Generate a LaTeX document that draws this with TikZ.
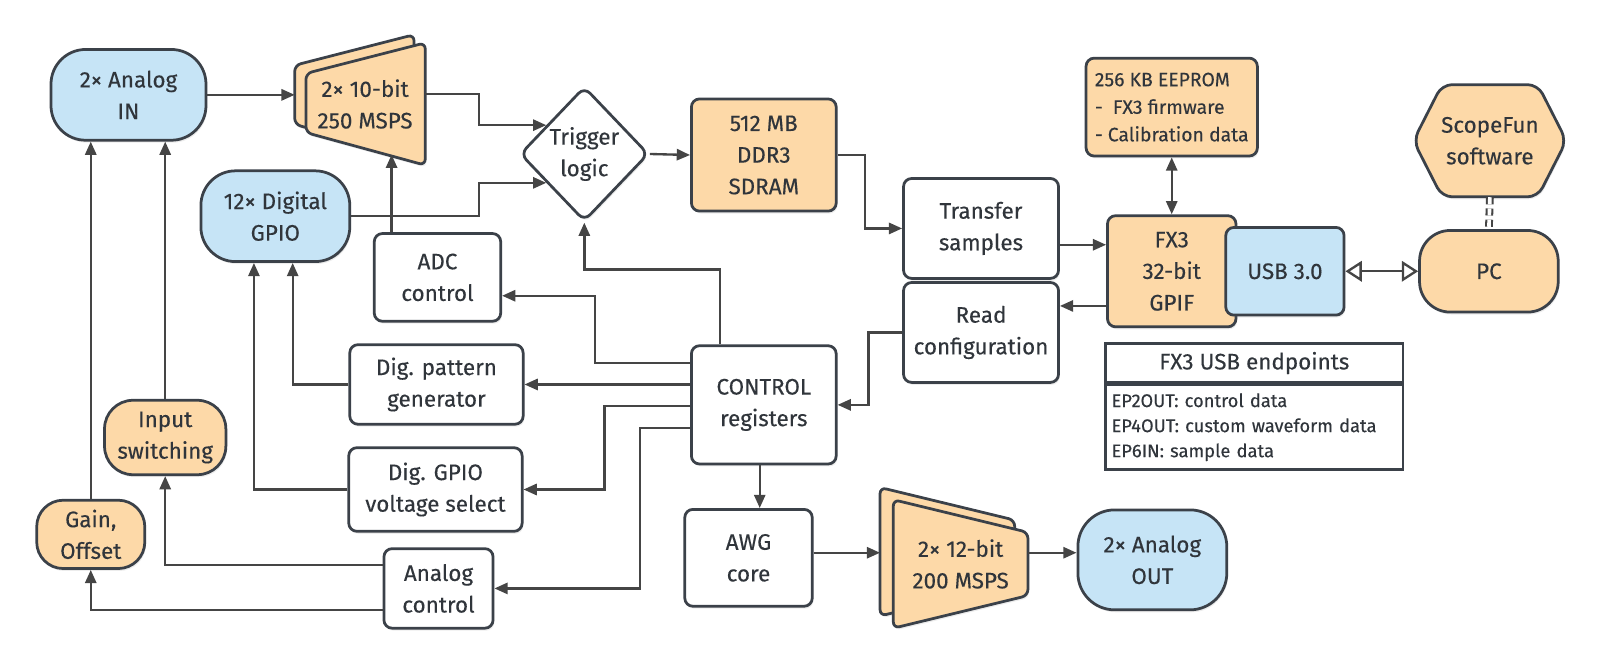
\documentclass[tikz,border=0pt]{standalone}
\usepackage{fontspec}
\setmainfont{Fira Sans}[FakeBold=0.25]
\usepackage{tikz}
\usetikzlibrary{arrows.meta,positioning,shapes.geometric,calc,shadows}
\usepackage{xcolor}
\definecolor{bluef}{HTML}{C6E4F6}
\definecolor{orgf}{HTML}{FDD9A8}
\definecolor{edge}{HTML}{3B4149}
\definecolor{wire}{HTML}{454545}
\definecolor{ink}{HTML}{30353B}

\begin{document}
\begin{tikzpicture}[x=0.5pt,y=-0.5pt,
  every node/.style={font=\fontsize{11}{15.5}\selectfont,text=ink,align=center,inner sep=0pt},
  shd/.style={drop shadow={shadow xshift=0.6pt,shadow yshift=-1.2pt,opacity=0.15}},
  box/.style={draw=edge,line width=1.35pt,fill=white,rounded corners=4pt,shd},
  pill/.style={draw=edge,line width=1.35pt,rounded corners=#1,shd},
  blu/.style={pill=#1,fill=bluef},
  org/.style={pill=#1,fill=orgf},
  conv/.style={draw=edge,line width=1.35pt,fill=orgf,rounded corners=3pt,shd},
  conn/.style={draw=wire,line width=1.15pt,-{Triangle[length=6.5pt,width=5.5pt]}},
  bi/.style={draw=wire,line width=1.15pt,{Triangle[length=6.5pt,width=5.5pt]}-{Triangle[length=6.5pt,width=5.5pt]}}]
  \useasboundingbox (0,0) rectangle (1568,650);
  % 输入
  \node[blu=17pt,minimum width=76pt,minimum height=44.5pt] (ain) at (126,93) {2× Analog\\IN};
  \node[blu=17pt,minimum width=73pt,minimum height=44.5pt] (gpio) at (270,212) {12× Digital\\GPIO};
  \node[org=14pt,minimum width=59.5pt,minimum height=36.5pt] (insw) at (162,429) {Input\\switching};
  \node[org=13pt,minimum width=53pt,minimum height=33.5pt] (gain) at (89,524) {Gain,\\Offset};
  % ADC
  \draw[conv] (289,64) -- (406,34) -- (406,154) -- (289,122) -- cycle;
  \draw[conv] (300,72) -- (417,42) -- (417,162) -- (300,130) -- cycle;
  \node (adc) at (358,102) {2× 10-bit\\250 MSPS};
  \coordinate (adcin) at (289,93);
  \coordinate (adcout) at (417,92);
  \node[diamond,draw=edge,line width=1.35pt,fill=white,rounded corners=4pt,minimum width=63pt,minimum height=66pt,shd] (trig) at (573,151) {Trigger\\logic};
  \node[box,fill=orgf,minimum width=71pt,minimum height=55pt] (ddr) at (749,152) {512 MB\\DDR3\\SDRAM};
  \node[box,minimum width=76pt,minimum height=49pt] (xfer) at (962,224) {Transfer\\samples};
  \node[box,minimum width=76pt,minimum height=49pt] (rdcfg) at (962,326) {Read\\configuration};
  % FX3 与 PC
  \node[box,fill=orgf,minimum width=84pt,minimum height=48pt,align=left,font=\fontsize{9.5}{13.5}\selectfont] (eeprom) at (1149,105) {256 KB EEPROM\\-~~FX3 firmware\\- Calibration data};
  \node[box,fill=orgf,minimum width=63pt,minimum height=54.5pt] (fx3) at (1149,266) {FX3\\32-bit\\GPIF};
  \node[box,fill=bluef,minimum width=58pt,minimum height=43pt] (usb) at (1260,266) {USB 3.0};
  \node[org=15pt,minimum width=68pt,minimum height=40pt] (pc) at (1460,266) {PC};
  \draw[draw=edge,line width=1.35pt,fill=orgf,rounded corners=5pt,shd] (1386,138) -- (1414,83) -- (1508,83) -- (1536,138) -- (1508,193) -- (1414,193) -- cycle;
  \node[minimum height=55pt,minimum width=74pt] (sfw) at (1461,138) {ScopeFun\\software};
  \node[draw=edge,line width=1.2pt,minimum width=146pt,minimum height=19pt] (ephd) at (1230,356) {FX3 USB endpoints};
  \node[draw=edge,line width=1.2pt,minimum width=146pt,minimum height=41.5pt,text width=140pt,align=left,font=\fontsize{9}{12.3}\selectfont,below=0pt of ephd] (epbd) {EP2OUT: control data\\EP4OUT: custom waveform data\\EP6IN: sample data};
  % 控制
  \node[box,minimum width=62pt,minimum height=43pt] (adcctl) at (429,272) {ADC\\control};
  \node[box,minimum width=85pt,minimum height=39pt] (pat) at (428,377) {Dig. pattern\\generator};
  \node[box,minimum width=71pt,minimum height=58pt] (ctrl) at (749,397) {CONTROL\\registers};
  \node[box,minimum width=85pt,minimum height=41pt] (volt) at (427,480) {Dig. GPIO\\voltage select};
  \node[box,minimum width=53.5pt,minimum height=39pt] (actl) at (430,577) {Analog\\control};
  % 输出
  \node[box,minimum width=62.5pt,minimum height=47.5pt] (awg) at (734,547) {AWG\\core};
  \draw[conv] (863,478) -- (995,510) -- (995,572) -- (863,604) -- cycle;
  \draw[conv] (876,490) -- (1008,522) -- (1008,584) -- (876,616) -- cycle;
  \node (dac) at (942,553) {2× 12-bit\\200 MSPS};
  \coordinate (dacin) at (863,542);
  \coordinate (dacout) at (1008,542);
  \node[blu=18pt,minimum width=73pt,minimum height=49pt] (aout) at (1130,549) {2× Analog\\OUT};
  % 连线
  \draw[conn] (ain.east) -- (adcin);
  \draw[conn] (adcout) -- ++(53,0) |- ($(trig.west)!0.42!(trig.north)$);
  \draw[conn] (gpio.east) -- (470,212) |- ($(trig.west)!0.42!(trig.south)$);
  \draw[conn] (trig.east) -- (ddr.west);
  \draw[conn] (ddr.east) -- ++(27,0) |- (xfer.west);
  \draw[conn] ($(xfer.east)+(0,16)$) -- ($(fx3.west)+(0,-26)$);
  \draw[conn] ($(fx3.west)+(0,34)$) -- ($(rdcfg.east)+(0,-26)$);
  \draw[conn] (rdcfg.west) -- ++(-33,0) |- (ctrl.east);
  \draw[bi] (eeprom.south) -- (fx3.north);
  \draw[draw=wire,line width=1.15pt,{Triangle[open,length=8pt,width=10pt]}-{Triangle[open,length=8pt,width=10pt]}] (usb.east) -- (pc.west);
  \draw[draw=wire,double=white,line width=1pt,double distance=1.8pt,dash pattern=on 3.5pt off 2pt] (sfw.south) -- (pc.north);
  \draw[conn] ($(ctrl.north)+(-43,0)$) |- ($(trig.south)+(0,46)$) -- (trig.south);
  \draw[conn] ($(ctrl.west)+(0,-41)$) -- ++(-93,0) |- ($(adcctl.east)+(0,18)$);
  \draw[conn] ($(ctrl.west)+(0,-20)$) -- (pat.east);
  \draw[conn] ($(ctrl.west)+(0,1)$) -- ++(-84,0) |- (volt.east);
  \draw[conn] ($(ctrl.west)+(0,23)$) -- ++(-49,0) |- (actl.east);
  \draw[conn] ($(ctrl.south)+(-4,0)$) -- ($(awg.north)+(11,0)$);
  \draw[conn] ($(awg.east)+(0,-5)$) -- (dacin);
  \draw[conn] (dacout) -- (aout.west |- dacout);
  \draw[conn] ($(adcctl.north)+(-45,0)$) -- ++(0,-76);
  \draw[conn] (pat.west) -| ($(gpio.south)+(17,0)$);
  \draw[conn] (volt.west) -| ($(gpio.south)+(-21,0)$);
  \draw[conn] ($(actl.west)+(0,-23)$) -| (insw.south);
  \draw[conn] ($(actl.west)+(0,21)$) -| (gain.south);
  \draw[conn] (insw.north) -- (insw.north |- ain.south);
  \draw[conn] (gain.north) -- (gain.north |- ain.south);
\end{tikzpicture}
\end{document}
